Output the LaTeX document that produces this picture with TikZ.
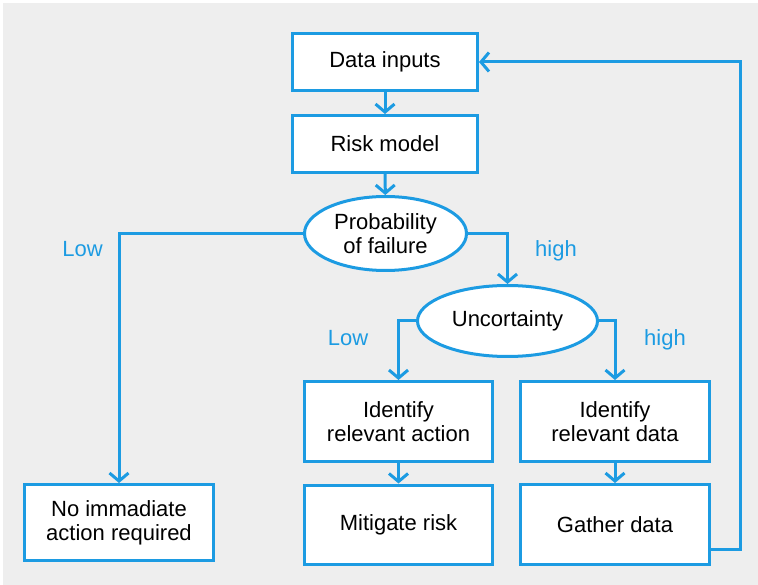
\documentclass[tikz,border=0pt]{standalone}
\usepackage{fontspec}
\setmainfont{Liberation Sans}
\usetikzlibrary{arrows.meta,shapes.geometric}
\definecolor{flowblue}{RGB}{28,155,226}
\definecolor{panelgrey}{RGB}{238,238,238}
\tikzset{
  box/.style={draw=flowblue, line width=3pt, fill=white, rectangle, inner sep=0pt,
    align=center, font=\fontsize{22}{24}\selectfont, text=black},
  decision/.style={draw=flowblue, line width=3pt, fill=white, ellipse, inner sep=0pt,
    align=center, font=\fontsize{22}{24}\selectfont, text=black},
  flow/.style={draw=flowblue, line width=3pt, -{Straight Barb[length=8pt,width=19pt]}},
  branch/.style={text=flowblue, font=\fontsize{22}{24}\selectfont, anchor=base, inner sep=0pt},
}
\begin{document}
\begin{tikzpicture}[x=1pt,y=-1pt]
  % page frame and grey panel
  \useasboundingbox (0,0) rectangle (758,585);
  \fill[white] (0,0) rectangle (758,585);
  \fill[panelgrey] (3,3) rectangle (758,585);

  % boxes and decisions
  \node[box, minimum width=185pt, minimum height=57pt] (din) at (385,62) {Data inputs};
  \node[box, minimum width=185pt, minimum height=57pt] (risk) at (385,144) {Risk model};
  \node[decision, minimum width=162pt, minimum height=74pt] (pof) at (385.5,233.5) {Probability\\of failure};
  \node[decision, minimum width=180pt, minimum height=71pt] (unc) at (507.5,321) {Uncortainty};
  \node[box, minimum width=188pt, minimum height=80pt] (ira) at (398.5,421.5) {Identify\\relevant action};
  \node[box, minimum width=189pt, minimum height=80pt] (ird) at (615,421.5) {Identify\\relevant data};
  \node[box, minimum width=189pt, minimum height=76pt] (noact) at (119,522.5) {No immadiate\\action required};
  \node[box, minimum width=188pt, minimum height=79pt] (mit) at (398.5,524.5) {Mitigate risk};
  \node[box, minimum width=189pt, minimum height=80pt] (gat) at (615,524.5) {Gather data};

  % branch labels
  \node[branch] (lowA) at (82.5,257) {Low};
  \node[branch] (highA) at (556,257) {high};
  \node[branch] (lowB) at (348,346) {Low};
  \node[branch] (highB) at (665,346) {high};

  % connectors
  \draw[flow] (din) -- (risk);
  \draw[flow] (risk) -- (pof);
  \draw[flow] (pof.west) -| (noact.north);
  \draw[flow] (pof.east) -| (unc.north);
  \draw[flow] (unc.west) -| (ira.north);
  \draw[flow] (unc.east) -| (ird.north);
  \draw[flow] (ira) -- (mit);
  \draw[flow] (ird) -- (gat);
  \coordinate (loop) at (740,549);
  \draw[flow] (gat.east |- loop) -- (loop) |- (din.east);
\end{tikzpicture}
\end{document}
